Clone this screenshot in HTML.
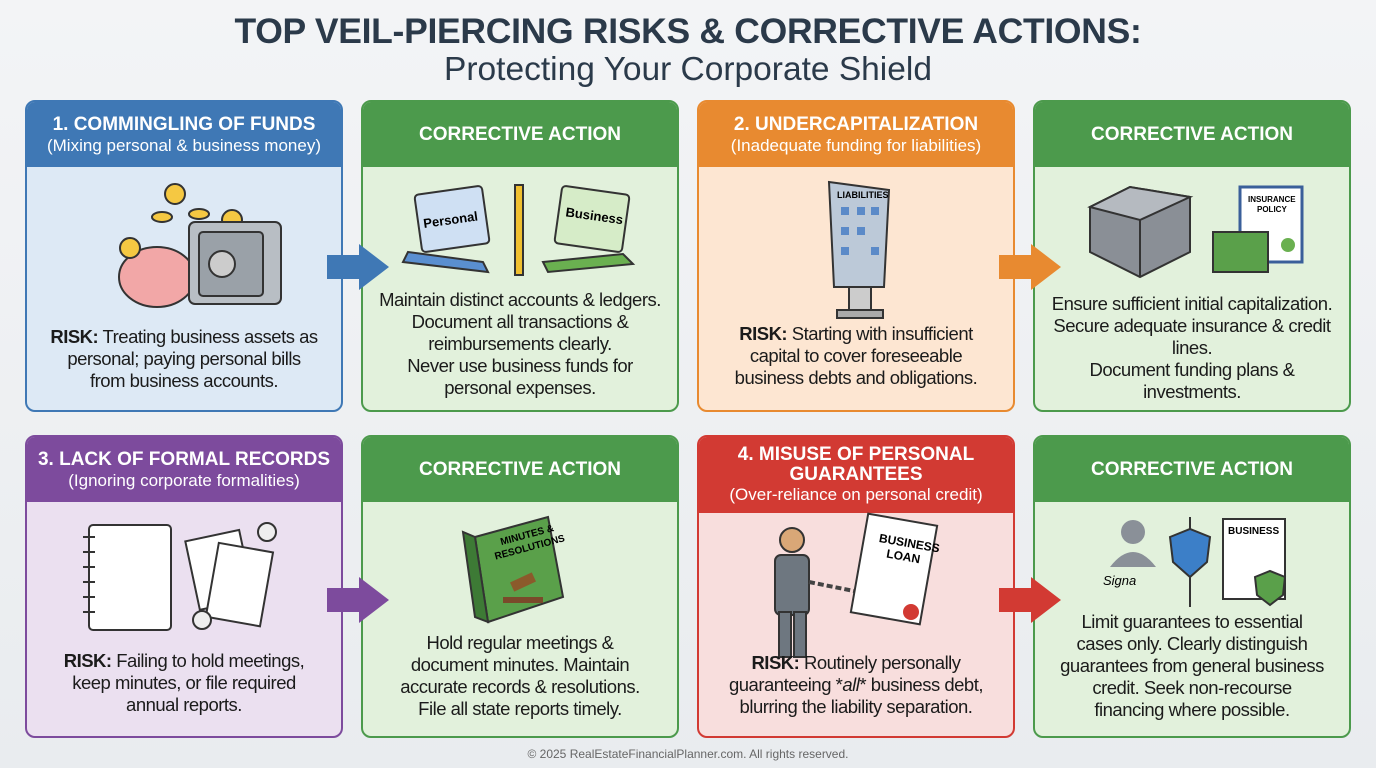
<!DOCTYPE html>
<html><head><meta charset="utf-8"><style>
*{margin:0;padding:0;box-sizing:border-box}
body{width:1376px;height:768px;overflow:hidden;background:linear-gradient(#f3f4f6,#e9ecef);font-family:"Liberation Sans",sans-serif;position:relative;color:#1b1b1b}
.t1{position:absolute;top:11px;left:0;width:1376px;text-align:center;font-size:35.5px;font-weight:bold;color:#2b3a4a;letter-spacing:-0.3px}
.t2{position:absolute;top:51px;left:0;width:1376px;text-align:center;font-size:33.5px;color:#2b3a4a}
.card{position:absolute;width:318px;border-radius:10px;border:2px solid;overflow:hidden}
.hd{color:#fff;text-align:center;display:flex;flex-direction:column;justify-content:center;font-size:17px;line-height:21px}
.hd b{font-size:19px}
.tx{position:absolute;left:0;right:0;text-align:center;font-size:18.5px;line-height:22px;white-space:nowrap;letter-spacing:-0.5px}
.ic{position:absolute;left:0;top:0}
.foot{position:absolute;top:747px;width:1376px;text-align:center;font-size:12px;color:#666}
.ar{position:absolute}
</style></head><body>
<div class="t1">TOP VEIL-PIERCING RISKS &amp; CORRECTIVE ACTIONS:</div>
<div class="t2">Protecting Your Corporate Shield</div>

<!-- Row 1 -->
<div class="card" style="left:25px;top:100px;height:312px;border-color:#3f78b5;background:#dde9f5">
 <div class="hd" style="height:65px;background:#3f78b5"><b>1. COMMINGLING OF FUNDS</b>(Mixing personal &amp; business money)</div>
 <svg class="ic" width="318" height="312"><ellipse cx="130" cy="175" rx="38" ry="30" fill="#f2a7a7" stroke="#333" stroke-width="2"/><circle cx="103" cy="146" r="10" fill="#f5c842" stroke="#333" stroke-width="2"/><circle cx="148" cy="92" r="10" fill="#f5c842" stroke="#333" stroke-width="2"/><ellipse cx="135" cy="115" rx="10" ry="5" fill="#f5c842" stroke="#333" stroke-width="2"/><ellipse cx="172" cy="112" rx="10" ry="5" fill="#f5c842" stroke="#333" stroke-width="2"/><circle cx="205" cy="118" r="10" fill="#f5c842" stroke="#333" stroke-width="2"/><rect x="162" y="120" width="92" height="82" rx="6" fill="#b8bec4" stroke="#333" stroke-width="2"/><rect x="172" y="130" width="64" height="64" rx="4" fill="#9aa1a8" stroke="#333" stroke-width="2"/><circle cx="195" cy="162" r="13" fill="#ccc" stroke="#333" stroke-width="2"/></svg>
 <div class="tx" style="top:224px"><b>RISK:</b> Treating business assets as<br>personal; paying personal bills<br>from business accounts.</div>
</div>
<div class="card" style="left:361px;top:100px;height:312px;border-color:#4c9a4c;background:#e2f1dc">
 <div class="hd" style="height:65px;background:#4c9a4c"><b>CORRECTIVE ACTION</b></div>
 <svg class="ic" width="318" height="312"><rect x="55" y="88" width="68" height="58" rx="4" transform="rotate(-8 89 117)" fill="#cfe0f3" stroke="#333" stroke-width="2"/><path d="M45 150 L120 160 L125 170 L40 160Z" fill="#5a8fd0" stroke="#333" stroke-width="2"/><text x="60" y="122" font-size="13" font-weight="bold" transform="rotate(-8 89 117)">Personal</text><rect x="152" y="83" width="8" height="90" fill="#f0c030" stroke="#333" stroke-width="2"/><rect x="195" y="88" width="68" height="58" rx="4" transform="rotate(8 229 117)" fill="#d6ecc8" stroke="#333" stroke-width="2"/><path d="M180 160 L260 152 L270 162 L185 170Z" fill="#6ab050" stroke="#333" stroke-width="2"/><text x="202" y="118" font-size="13" font-weight="bold" transform="rotate(8 229 117)">Business</text></svg>
 <div class="tx" style="top:187px">Maintain distinct accounts &amp; ledgers.<br>Document all transactions &amp;<br>reimbursements clearly.<br>Never use business funds for<br>personal expenses.</div>
</div>
<div class="card" style="left:697px;top:100px;height:312px;border-color:#e88a30;background:#fde6d2">
 <div class="hd" style="height:65px;background:#e88a30"><b>2. UNDERCAPITALIZATION</b>(Inadequate funding for liabilities)</div>
 <svg class="ic" width="318" height="312"><path d="M130 80 L190 88 L185 185 L135 185Z" fill="#bcc9d8" stroke="#333" stroke-width="2"/><text x="138" y="96" font-size="9" font-weight="bold">LIABILITIES</text><g fill="#5b8ac8"><rect x="142" y="105" width="8" height="8"/><rect x="158" y="105" width="8" height="8"/><rect x="172" y="105" width="8" height="8"/><rect x="142" y="125" width="8" height="8"/><rect x="158" y="125" width="8" height="8"/><rect x="142" y="145" width="8" height="8"/><rect x="172" y="145" width="8" height="8"/></g><rect x="150" y="185" width="22" height="25" fill="#ccc" stroke="#333" stroke-width="2"/><rect x="138" y="208" width="46" height="8" fill="#aaa" stroke="#333" stroke-width="2"/></svg>
 <div class="tx" style="top:221px"><b>RISK:</b> Starting with insufficient<br>capital to cover foreseeable<br>business debts and obligations.</div>
</div>
<div class="card" style="left:1033px;top:100px;height:312px;border-color:#4c9a4c;background:#e2f1dc">
 <div class="hd" style="height:65px;background:#4c9a4c"><b>CORRECTIVE ACTION</b></div>
 <svg class="ic" width="318" height="312"><path d="M55 105 L95 85 L155 95 L155 150 L105 175 L55 150Z" fill="#8a8f96" stroke="#333" stroke-width="2"/><path d="M55 105 L105 118 L155 95 L95 85Z" fill="#b5bac0" stroke="#333" stroke-width="2"/><line x1="105" y1="118" x2="105" y2="175" stroke="#333" stroke-width="2"/><rect x="205" y="85" width="62" height="75" fill="#fff" stroke="#3a5f9a" stroke-width="3"/><text x="213" y="100" font-size="8" font-weight="bold">INSURANCE</text><text x="222" y="110" font-size="8" font-weight="bold">POLICY</text><circle cx="253" cy="143" r="7" fill="#6ab050"/><rect x="178" y="130" width="55" height="40" fill="#5aa04a" stroke="#333" stroke-width="2"/></svg>
 <div class="tx" style="top:191px">Ensure sufficient initial capitalization.<br>Secure adequate insurance &amp; credit<br>lines.<br>Document funding plans &amp;<br>investments.</div>
</div>

<!-- Row 2 -->
<div class="card" style="left:25px;top:435px;height:303px;border-color:#7d4b9d;background:#ebe0f0">
 <div class="hd" style="height:65px;background:#7d4b9d"><b>3. LACK OF FORMAL RECORDS</b>(Ignoring corporate formalities)</div>
 <svg class="ic" width="318" height="303"><rect x="62" y="88" width="82" height="105" rx="4" fill="#fff" stroke="#333" stroke-width="2"/><g stroke="#333" stroke-width="2">
<line x1="56" y1="100" x2="68" y2="100"/><line x1="56" y1="115" x2="68" y2="115"/><line x1="56" y1="130" x2="68" y2="130"/><line x1="56" y1="145" x2="68" y2="145"/><line x1="56" y1="160" x2="68" y2="160"/><line x1="56" y1="175" x2="68" y2="175"/></g><rect x="165" y="98" width="55" height="70" fill="#fff" stroke="#333" stroke-width="2" transform="rotate(-12 192 133)"/><rect x="185" y="110" width="55" height="75" fill="#fff" stroke="#333" stroke-width="2" transform="rotate(10 212 147)"/><circle cx="240" cy="95" r="9" fill="#eee" stroke="#333" stroke-width="2"/><circle cx="175" cy="183" r="9" fill="#eee" stroke="#333" stroke-width="2"/></svg>
 <div class="tx" style="top:213px"><b>RISK:</b> Failing to hold meetings,<br>keep minutes, or file required<br>annual reports.</div>
</div>
<div class="card" style="left:361px;top:435px;height:303px;border-color:#4c9a4c;background:#e2f1dc">
 <div class="hd" style="height:65px;background:#4c9a4c"><b>CORRECTIVE ACTION</b></div>
 <svg class="ic" width="318" height="303"><path d="M112 100 L185 80 L200 160 L125 185Z" fill="#5aa04a" stroke="#333" stroke-width="2"/><path d="M112 100 L100 95 L112 180 L125 185Z" fill="#3d7a35" stroke="#333" stroke-width="2"/><text x="138" y="105" font-size="10" font-weight="bold" transform="rotate(-15 150 105)">MINUTES &amp;</text><text x="132" y="118" font-size="10" font-weight="bold" transform="rotate(-15 150 118)">RESOLUTIONS</text><rect x="140" y="160" width="40" height="6" fill="#7a4a2a"/><rect x="148" y="140" width="24" height="10" fill="#8b5a2b" transform="rotate(-25 160 145)"/></svg>
 <div class="tx" style="top:195px">Hold regular meetings &amp;<br>document minutes. Maintain<br>accurate records &amp; resolutions.<br>File all state reports timely.</div>
</div>
<div class="card" style="left:697px;top:435px;height:303px;border-color:#d23a33;background:#f8dedd">
 <div class="hd" style="height:76px;background:#d23a33;line-height:20px"><b>4. MISUSE OF PERSONAL<br>GUARANTEES</b>(Over-reliance on personal credit)</div>
 <svg class="ic" width="318" height="303"><circle cx="93" cy="103" r="12" fill="#d9a777" stroke="#333" stroke-width="2"/><rect x="76" y="118" width="34" height="60" rx="6" fill="#6e7780" stroke="#333" stroke-width="2"/><rect x="80" y="175" width="12" height="45" fill="#6e7780" stroke="#333" stroke-width="2"/><rect x="95" y="175" width="12" height="45" fill="#6e7780" stroke="#333" stroke-width="2"/><path d="M110 145 L160 155" stroke="#444" stroke-width="4" stroke-dasharray="6 3"/><rect x="160" y="82" width="70" height="100" fill="#fff" stroke="#333" stroke-width="2" transform="rotate(10 195 132)"/><text x="175" y="108" font-size="12" font-weight="bold" transform="rotate(10 195 132)">BUSINESS</text><text x="185" y="122" font-size="12" font-weight="bold" transform="rotate(10 195 132)">LOAN</text><circle cx="212" cy="175" r="8" fill="#d23a33"/></svg>
 <div class="tx" style="top:215px"><b>RISK:</b> Routinely personally<br>guaranteeing *<i>all</i>* business debt,<br>blurring the liability separation.</div>
</div>
<div class="card" style="left:1033px;top:435px;height:303px;border-color:#4c9a4c;background:#e2f1dc">
 <div class="hd" style="height:65px;background:#4c9a4c"><b>CORRECTIVE ACTION</b></div>
 <svg class="ic" width="318" height="303"><circle cx="98" cy="95" r="12" fill="#8a9098"/><path d="M75 130 Q98 100 121 130Z" fill="#8a9098"/><text x="68" y="148" font-size="13" font-style="italic">Signa</text><line x1="155" y1="80" x2="155" y2="170" stroke="#333" stroke-width="2"/><path d="M135 100 L155 92 L175 100 L172 125 L155 140 L138 125Z" fill="#3c7fc8" stroke="#333" stroke-width="2"/><rect x="188" y="82" width="62" height="80" fill="#fff" stroke="#333" stroke-width="2"/><text x="193" y="97" font-size="10" font-weight="bold">BUSINESS</text><path d="M220 140 L235 134 L250 140 L248 158 L235 168 L222 158Z" fill="#5aa04a" stroke="#333" stroke-width="2"/></svg>
 <div class="tx" style="top:174px">Limit guarantees to essential<br>cases only. Clearly distinguish<br>guarantees from general business<br>credit. Seek non-recourse<br>financing where possible.</div>
</div>

<!-- arrows -->
<svg class="ar" style="left:325px;top:242px" width="66" height="50"><path d="M2 13 H34 V2 L64 25 L34 48 V37 H2Z" fill="#3f78b5"/></svg>
<svg class="ar" style="left:997px;top:242px" width="66" height="50"><path d="M2 13 H34 V2 L64 25 L34 48 V37 H2Z" fill="#e88a30"/></svg>
<svg class="ar" style="left:325px;top:575px" width="66" height="50"><path d="M2 13 H34 V2 L64 25 L34 48 V37 H2Z" fill="#7d4b9d"/></svg>
<svg class="ar" style="left:997px;top:575px" width="66" height="50"><path d="M2 13 H34 V2 L64 25 L34 48 V37 H2Z" fill="#d23a33"/></svg>

<div class="foot">© 2025 RealEstateFinancialPlanner.com. All rights reserved.</div>
</body></html>
